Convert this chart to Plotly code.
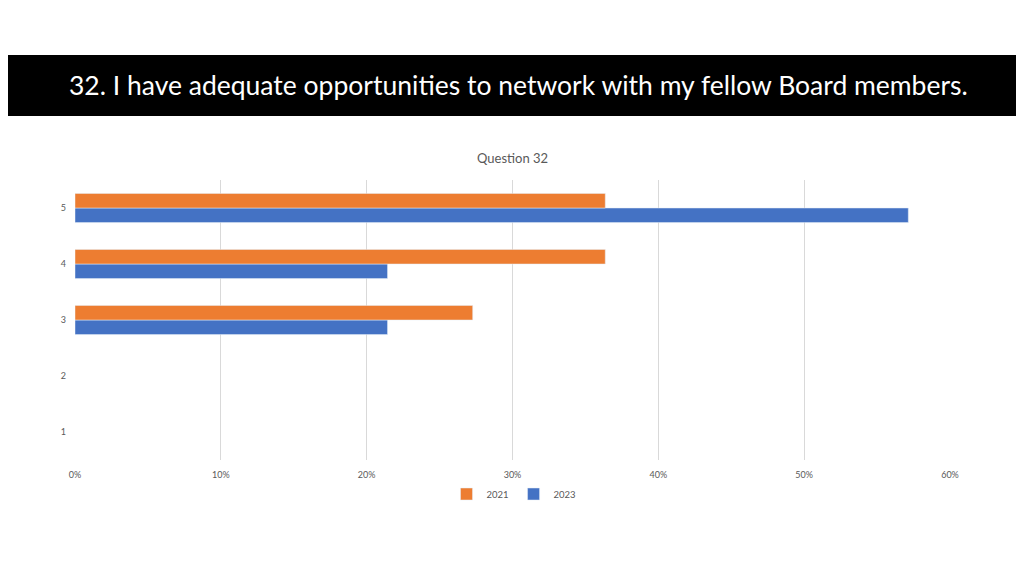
import plotly.graph_objects as go

categories = ["1", "2", "3", "4", "5"]
values_2021 = [None, None, 27.27, 36.36, 36.36]
values_2023 = [None, None, 21.43, 21.43, 57.14]
x_ticks = [0, 10, 20, 30, 40, 50, 60]
x_tick_labels = ["0%", "10%", "20%", "30%", "40%", "50%", "60%"]

W, H = 1024, 576
OFF = 8  # page body margin offset
# desired page positions of plot area
PL, PR, PT, PB = 75, 950, 180, 460
L = PL - OFF
T = PT - OFF
R = W - (PR - OFF)
B = H - (PB - OFF)
pw = W - L - R
ph = H - T - B

def px_x(x):
    return (x - OFF - L) / pw

def px_y(y):
    return (H - B - (y - OFF)) / ph

fig = go.Figure()
fig.add_trace(go.Bar(y=categories, x=values_2023, orientation="h", name="2023",
                     marker_color="#4472C4"))
fig.add_trace(go.Bar(y=categories, x=values_2021, orientation="h", name="2021",
                     marker_color="#ED7D31"))

font_family = "Lato, 'Open Sans', sans-serif"

fig.update_layout(
    width=W, height=H,
    margin=dict(l=L, r=R, t=T, b=B, autoexpand=False),
    paper_bgcolor="white", plot_bgcolor="white",
    barmode="group", bargap=0.48, bargroupgap=0,
    font=dict(family=font_family, color="#595959", size=9),
    xaxis=dict(range=[0, 60], tickvals=x_ticks, ticktext=x_tick_labels,
               showgrid=True, gridcolor="#D9D9D9", gridwidth=1, zeroline=False,
               showline=False, ticks="", ticklabelstandoff=8,
               tickfont=dict(size=9, color="#595959")),
    yaxis=dict(type="category", categoryorder="array", categoryarray=categories,
               range=[-0.5, 4.5], showgrid=False, zeroline=False, showline=False,
               ticks="", ticklabelstandoff=8, tickfont=dict(size=9, color="#595959")),
    legend=dict(orientation="h", x=px_x(514), xanchor="center", y=px_y(494), yanchor="middle",
                traceorder="reversed", font=dict(size=9.5, color="#595959"),
                itemwidth=30, tracegroupgap=0),
    showlegend=True,
)

fig.add_shape(type="rect", xref="paper", yref="paper",
              x0=px_x(0), x1=px_x(1040), y0=px_y(116), y1=px_y(55),
              fillcolor="black", line=dict(width=0), layer="below")

fig.add_annotation(xref="paper", yref="paper", x=px_x(518), y=px_y(85),
                   text="32. I have adequate opportunities to network with my fellow Board members.",
                   showarrow=False, xanchor="center", yanchor="middle",
                   font=dict(family=font_family, size=26.5, color="white"))

fig.add_annotation(xref="paper", yref="paper", x=px_x(512), y=px_y(158),
                   text="Question 32", showarrow=False, xanchor="center", yanchor="middle",
                   font=dict(family=font_family, size=13, color="#595959"))

fig.write_html("out.html")
